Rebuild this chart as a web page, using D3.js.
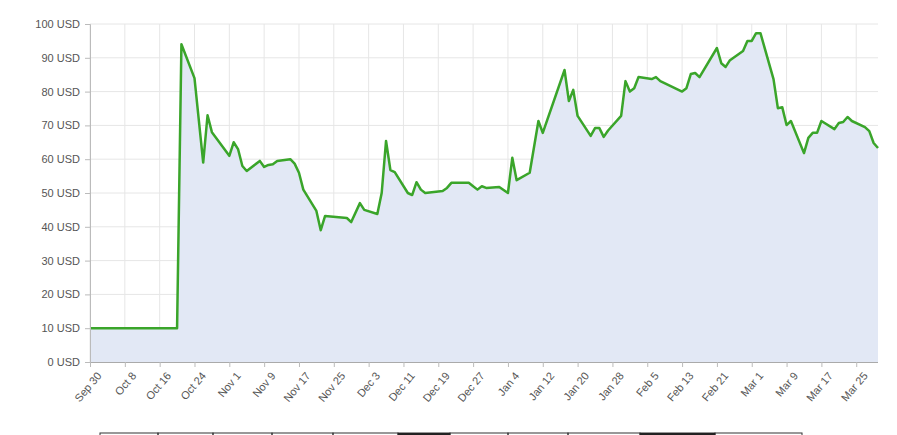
<!DOCTYPE html>
<html><head><meta charset="utf-8">
<script src="https://cdn.jsdelivr.net/npm/d3@7"></script>
<style>body{margin:0;background:#fff}svg{display:block}text{font-family:"Liberation Sans",Arial,sans-serif}</style>
</head><body><svg id="c" width="897" height="435"></svg>
<script>
const startDate = "2017-09-30";
const dayOffsets = [0,20,21,24,26,27,28,32,33,34,35,36,39,40,41,42,43,46,47,48,49,52,53,54,59,60,62,63,66,67,68,69,70,73,74,75,76,77,81,82,83,87,88,89,90,91,94,96,97,98,101,103,104,109,110,111,112,115,116,117,118,119,122,123,124,125,126,129,130,131,136,137,138,139,140,144,145,146,147,150,151,152,153,154,157,158,159,160,161,164,165,166,167,168,171,172,173,174,175,178,179,180,181];
const prices = [10,10,94,84,59,73,68,61,65,63,58,56.5,59.5,57.7,58.3,58.5,59.5,60,58.7,56,51,44.7,39,43.2,42.6,41.4,47,45,43.8,50,65.4,56.8,56.2,50,49.4,53.2,51,50,50.6,51.5,53,53,52,51,52,51.5,51.8,50,60.4,53.8,56,71.3,67.8,86.4,77.2,80.5,72.8,66.9,69.2,69.2,66.6,68.5,72.8,83.1,80,81,84.3,83.7,84.3,83.1,80,81,85.2,85.5,84.3,92.9,88.4,87.3,89.3,92,95,95,97.3,97.3,83.7,75.1,75.4,70.1,71.3,61.8,66.3,67.8,67.8,71.3,68.9,70.7,71,72.5,71.3,69.5,68.3,64.8,63.3];
const yTicks = [0,10,20,30,40,50,60,70,80,90,100];
const xTickLabels = ["Sep 30","Oct 8","Oct 16","Oct 24","Nov 1","Nov 9","Nov 17","Nov 25","Dec 3","Dec 11","Dec 19","Dec 27","Jan 4","Jan 12","Jan 20","Jan 28","Feb 5","Feb 13","Feb 21","Mar 1","Mar 9","Mar 17","Mar 25"];

const parse = d3.timeParse("%Y-%m-%d");
const t0 = parse(startDate);
const data = dayOffsets.map((d,i)=>({date:d3.timeDay.offset(t0,d), v:prices[i]}));
const tickDates = xTickLabels.map((l,i)=>d3.timeDay.offset(t0,i*8));

const svg = d3.select("#c");
const L=90,R=878,T=24,B=362;
const x = d3.scaleTime().domain([t0, d3.timeDay.offset(t0,181.3)]).range([L,R]);
const y = d3.scaleLinear().domain([0,100]).range([B,T]);

const g = svg.append("g");
g.selectAll(".hg").data(yTicks).join("line").attr("x1",L).attr("x2",R)
 .attr("y1",d=>y(d)).attr("y2",d=>y(d)).attr("stroke","#e6e6e6");
g.selectAll(".vg").data(tickDates).join("line").attr("x1",d=>x(d)).attr("x2",d=>x(d))
 .attr("y1",T).attr("y2",B).attr("stroke","#e6e6e6");

svg.append("path").datum(data).attr("fill","#e2e8f5")
 .attr("d",d3.area().x(d=>x(d.date)).y0(B).y1(d=>y(d.v)));
svg.append("path").datum(data).attr("fill","none").attr("stroke","#3aa52a").attr("stroke-width",2.5)
 .attr("stroke-linejoin","round").attr("d",d3.line().x(d=>x(d.date)).y(d=>y(d.v)));

const ya = svg.append("g").attr("transform",`translate(${L},0)`)
 .call(d3.axisLeft(y).tickValues(yTicks).tickFormat(d=>d+" USD").tickSize(5).tickPadding(5));
ya.select(".domain").attr("stroke","#bbb");
ya.selectAll("line").attr("stroke","#bbb");
ya.selectAll("text").attr("fill","#555").style("font-size","11px");

const xa = svg.append("g").attr("transform",`translate(0,${B})`)
 .call(d3.axisBottom(x).tickValues(tickDates).tickFormat((d,i)=>xTickLabels[i]).tickSize(5).tickSizeOuter(0));
xa.select(".domain").attr("stroke","#aaa").attr("d",`M${L},0.5H${R}`);
xa.selectAll("line").attr("stroke","#bbb");
xa.selectAll("text").attr("fill","#555").style("font-size","11px")
 .attr("text-anchor","end").attr("dx","-0.3em").attr("dy","0.9em").attr("transform","rotate(-50)");

// partial table strip at bottom
const cells = [[100,158],[158,213],[213,272],[272,333],[333,398],[398,450],[450,508],[508,568],[568,640],[640,715],[715,802]];
svg.selectAll(".cell").data(cells).join("rect").attr("x",d=>d[0]).attr("y",433).attr("width",d=>d[1]-d[0]).attr("height",6)
 .attr("fill","none").attr("stroke","#333").attr("stroke-width",1);
svg.selectAll(".dk").data([[398,450],[640,715]]).join("rect").attr("x",d=>d[0]).attr("y",433).attr("width",d=>d[1]-d[0]).attr("height",3).attr("fill","#222");
</script></body></html>
